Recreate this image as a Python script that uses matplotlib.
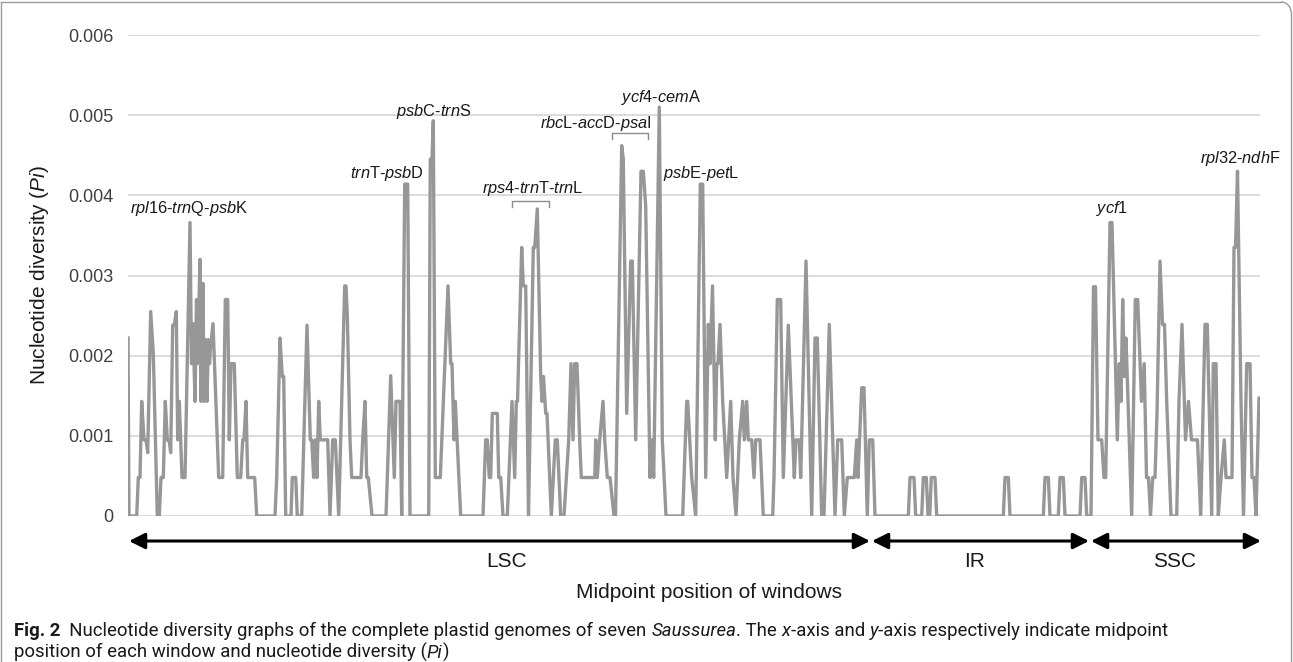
import matplotlib
matplotlib.use('Agg')
import matplotlib.pyplot as plt
from matplotlib import font_manager
from matplotlib.patches import Arc
import numpy as np

plt.rcParams['font.family'] = ['Liberation Sans', 'DejaVu Sans']
plt.rcParams['mathtext.fontset'] = 'custom'
plt.rcParams['mathtext.rm'] = 'Liberation Sans'
plt.rcParams['mathtext.it'] = 'Liberation Sans:italic'
plt.rcParams['mathtext.bf'] = 'Liberation Sans:bold'

# ---------------- data (window midpoint position, relative units; nucleotide diversity Pi) ----
lsc_pos = [0, 1, 8.7, 10.3, 12, 13.7, 16, 18, 19.7, 22.7, 25.3, 29.3, 31.3, 33, 35.3, 37.3,
           39.3, 41, 42.7, 44.7, 46.3, 48.3, 49.7, 51.3, 54, 57, 62, 63.5, 65, 67, 68.5, 69.5,
           72, 73, 75, 76, 77.5, 79, 80.3, 81.5, 82.5, 85, 90.7, 94.7, 97.3, 99.7, 101.3, 103,
           106.3, 109.3, 112.7, 114.7, 116, 118, 119.7, 126.7, 128.7, 147, 148.7, 152, 154.3,
           155.7, 157.7, 163, 164.3, 167.7, 169.3, 173.7, 179, 182.3, 183.7, 185.7, 187.3, 189,
           190.7, 192.3, 199.7, 202, 204.7, 207.3, 210.7, 216.7, 218, 219.3, 222, 223.7, 233,
           234.7, 237, 238.7, 240.3, 244, 258, 262.7, 266.3, 268, 272, 273.7, 276.7, 279.7, 282,
           300.7, 302.3, 304, 305.3, 307.3, 312.3, 320, 322.7, 324, 326, 327.3, 332.7, 355,
           357.7, 359.3, 361.3, 362.7, 364.3, 369.3, 370.7, 372.7, 375, 379.3, 384, 386.7, 388.3,
           389.5, 393.7, 395.3, 397.7, 400.5, 405.3, 406.7, 409.3, 412.7, 414, 415.5, 417.7, 419,
           423.3, 427.3, 429.3, 432.7, 436, 440.7, 443, 445, 446.7, 449, 451.7, 453.3, 466.7,
           467.7, 469.3, 471.7, 475, 476.7, 479.3, 482, 486, 487.5, 493.7, 495.3, 498.7, 502.7,
           504.3, 507.7, 513, 515.3, 517.7, 522, 523.7, 525.7, 531.3, 534.3, 538, 554.7, 558.7,
           559.7, 563.7, 567.7, 572.3, 574.7, 577.7, 580.3, 582, 584.5, 587.3, 588.7, 590, 592,
           594.7, 598.7, 602.7, 605, 608, 611.3, 614.7, 616.3, 618.7, 620.3, 623.7, 626, 627.7,
           632, 635.3, 644.7, 646, 649.3, 652.7, 655.3, 660.3, 666.3, 668, 671.3, 672.7, 678,
           683.7, 687, 689.3, 693.7, 696, 701.3, 707, 709.7, 713.7, 716.3, 719.3, 726.3, 728.7,
           730, 733.7, 736, 739.3, 741.3, 744.7, 747]
lsc_pi = [0.00222, 0, 0, 0.00048, 0.00048, 0.00143, 0.00095, 0.00095, 0.00079, 0.00255, 0.00203,
          0, 0, 0.00048, 0.00048, 0.00143, 0.00095, 0.00095, 0.00079, 0.00238, 0.00238, 0.00255,
          0.00095, 0.00143, 0.00048, 0.00048, 0.00366, 0.0019, 0.0024, 0.00143, 0.0027, 0.0019,
          0.0032, 0.00143, 0.0029, 0.00143, 0.0022, 0.00143, 0.0022, 0.0019, 0.0021, 0.0024,
          0.00048, 0.00048, 0.0027, 0.0027, 0.00095, 0.0019, 0.0019, 0.00048, 0.00048, 0.00095,
          0.00095, 0.00143, 0.00048, 0.00048, 0, 0, 0.00048, 0.00222, 0.00174, 0.00174, 0, 0,
          0.00048, 0.00048, 0, 0, 0.00238, 0.00095, 0.00095, 0.00048, 0.00095, 0.00048, 0.00143,
          0.00095, 0.00095, 0, 0.00095, 0.00095, 0, 0.00287, 0.00287, 0.0025, 0.00095, 0.00048,
          0.00048, 0.00095, 0.00143, 0.00048, 0.00048, 0, 0, 0.00175, 0.00048, 0.00143, 0.00143,
          0, 0.00414, 0.00414, 0, 0, 0.00445, 0.00445, 0.00493, 0.00048, 0.00048, 0.00287,
          0.0019, 0.0019, 0.00095, 0.00143, 0, 0, 0.00095, 0.00095, 0.00048, 0.00048, 0.00128,
          0.00128, 0.00048, 0.00048, 0, 0, 0.00143, 0.00048, 0.00143, 0.00143, 0.00335, 0.00287,
          0.00287, 0, 0.00335, 0.00335, 0.00383, 0.00174, 0.00143, 0.00174, 0.00128, 0.00128, 0,
          0.00095, 0.00095, 0, 0, 0.00095, 0.0019, 0.00095, 0.0019, 0.0019, 0.00095, 0.00048,
          0.00048, 0.00095, 0.00048, 0.00095, 0.00143, 0.00095, 0.00048, 0.00048, 0, 0, 0.00462,
          0.00445, 0.00128, 0.00318, 0.00318, 0.00095, 0.0043, 0.0043, 0.00387, 0.00048, 0.00095,
          0.00048, 0.0051, 0.00095, 0, 0, 0.00143, 0.00143, 0.00048, 0, 0.00414, 0.00414,
          0.00048, 0.00239, 0.0019, 0.00287, 0.00095, 0.0019, 0.0019, 0.00239, 0.00143, 0.00048,
          0.00143, 0.00048, 0, 0.00095, 0.00143, 0.00095, 0.00143, 0.00095, 0.00095, 0.00048,
          0.00095, 0.00095, 0, 0, 0.00048, 0.0027, 0.0027, 0.00048, 0.00238, 0.00048, 0.00095,
          0.00095, 0.00048, 0.00318, 0, 0.00222, 0.00222, 0, 0, 0.00239, 0, 0.00095, 0.00095, 0,
          0.00048, 0.00048, 0.00095, 0.00048, 0.0016, 0.0016, 0, 0.00095, 0.00095, 0]

ir_pos = [780.3, 782, 786, 787.7, 793.7, 795.3, 798.3, 800, 801.7, 803.3, 807, 808.7, 875.3, 877,
          880.3, 882, 915.3, 917, 920.3, 922, 930.3, 932, 935.3, 937, 952, 953.7, 957, 958.7, 963]
ir_pi = [0, 0.00048, 0.00048, 0, 0, 0.00048, 0.00048, 0, 0, 0.00048, 0.00048, 0, 0, 0.00048,
         0.00048, 0, 0, 0.00048, 0.00048, 0, 0, 0.00048, 0.00048, 0, 0, 0.00048, 0.00048, 0, 0]

ssc_pos = [965.5, 967.5, 970, 973.7, 976, 977.7, 982, 984, 989.3, 991.3, 993, 994.7, 996.3, 998,
           1003.7, 1007.3, 1009.7, 1013.5, 1016.2, 1018.5, 1020.5, 1022.5, 1024.7, 1027, 1029,
           1032, 1034.5, 1036.5, 1038.7, 1043, 1048.7, 1051, 1054, 1057.5, 1060.5, 1063.5,
           1069.5, 1072.7, 1077, 1079.3, 1083.7, 1085.3, 1088, 1090.3, 1093, 1096.3, 1098, 1104,
           1106, 1107.5, 1109.5, 1113, 1115.5, 1118.7, 1122, 1124, 1126, 1128, 1131]
ssc_pi = [0.00286, 0.00286, 0.00095, 0.00095, 0.00048, 0.00048, 0.00366, 0.00366, 0.00095,
          0.0019, 0.00143, 0.0027, 0.00174, 0.00222, 0, 0.0027, 0.0027, 0.00143, 0.0019, 0.00048,
          0.00048, 0, 0.00048, 0.00048, 0.00128, 0.00318, 0.00239, 0.00239, 0.00143, 0, 0,
          0.00143, 0.00239, 0.00095, 0.00143, 0.00095, 0.00095, 0, 0.00239, 0.00239, 0, 0.0019,
          0.0019, 0, 0.00048, 0.00095, 0.00048, 0.00048, 0.00335, 0.00335, 0.0043, 0.00143, 0,
          0.0019, 0.0019, 0.00048, 0.00048, 0, 0.00147]

regions = ['LSC', 'IR', 'SSC']
region_start = [1, 744, 963]
region_end = [742, 961, 1133]
region_label_x = [379, 847, 1047]

y_ticks = [0, 0.001, 0.002, 0.003, 0.004, 0.005, 0.006]
y_tick_labels = ['0', '0.001', '0.002', '0.003', '0.004', '0.005', '0.006']

ann_labels = [r'$\mathit{rpl}$16-$\mathit{trn}$Q-$\mathit{psb}$K',
              r'$\mathit{trn}$T-$\mathit{psb}$D',
              r'$\mathit{psb}$C-$\mathit{trn}$S',
              r'$\mathit{rps}$4-$\mathit{trn}$T-$\mathit{trn}$L',
              r'$\mathit{rbc}$L-$\mathit{acc}$D-$\mathit{psa}$I',
              r'$\mathit{ycf}$4-$\mathit{cem}$A',
              r'$\mathit{psb}$E-$\mathit{pet}$L',
              r'$\mathit{ycf}$1',
              r'$\mathit{rpl}$32-$\mathit{ndh}$F']
ann_x = [1.5, 259, 305.8, 405, 467.3, 532.7, 573, 984.5, 1112]
ann_y = [0.003775, 0.00422, 0.00499, 0.004025, 0.00484, 0.00517, 0.00421, 0.003775, 0.0044]
ann_ha = ['left', 'center', 'center', 'center', 'center', 'center', 'center', 'center', 'center']

bracket_x = [(383.7, 421.3), (483.7, 520.3)]
bracket_top = [0.00393, 0.00478]
bracket_bottom = [0.00385, 0.0047]

# ---------------- figure ----------------
W, H = 1293, 662
fig = plt.figure(figsize=(W / 100, H / 100), dpi=100)
ax = fig.add_axes([128 / W, 146 / H, 1132 / W, 481 / H])

pos = lsc_pos + ir_pos + ssc_pos
pi = lsc_pi + ir_pi + ssc_pi
assert len(pos) == len(pi)
ax.plot(pos, pi, color='#979797', lw=2.4, solid_joinstyle='round', zorder=3)

ax.set_xlim(0, 1132)
ax.set_ylim(0, 0.006)
ax.set_xticks([])
ax.set_yticks(y_ticks)
ax.set_yticklabels(y_tick_labels)
for s in ax.spines.values():
    s.set_visible(False)
ax.grid(axis='y', color='#d9d9d9', lw=1.3)
ax.set_axisbelow(True)
ax.tick_params(axis='y', length=0, pad=10.5, labelsize=13, labelcolor='#404040')

for lab, x, y, ha in zip(ann_labels, ann_x, ann_y, ann_ha):
    ax.text(x, y, lab, fontsize=11.8, ha=ha, va='baseline', color='#1a1a1a', zorder=4)

for (x0, x1), yt, yb in zip(bracket_x, bracket_top, bracket_bottom):
    ax.plot([x0, x0, x1, x1], [yb, yt, yt, yb], color='#8c8c8c', lw=1.0, zorder=4)

trans = ax.get_xaxis_transform()
for name, s, e, lx in zip(regions, region_start, region_end, region_label_x):
    ax.annotate('', xy=(e, -0.052), xytext=(s, -0.052), xycoords=trans, textcoords=trans,
                arrowprops=dict(arrowstyle='<|-|>,head_length=0.8,head_width=0.4',
                                mutation_scale=12, lw=2.2, color='black',
                                shrinkA=0, shrinkB=0),
                annotation_clip=False)
    ax.text(lx, -0.1054, name, transform=trans, ha='center', va='baseline', fontsize=15,
            color='#1a1a1a')

ax.text(581, -0.171, 'Midpoint position of windows', transform=trans, ha='center',
        va='baseline', fontsize=15, color='#1a1a1a')

fig.text(40 / W, 1 - 275 / H, r'Nucleotide diversity ($\mathit{Pi}$)', rotation=90,
         ha='center', va='center', fontsize=15, color='#1a1a1a')

# ---------------- caption ----------------
installed = {f.name for f in font_manager.fontManager.ttflist}
cap_family = [f for f in ['Roboto', 'Lato', 'Liberation Sans'] if f in installed][:1] + ['DejaVu Sans']
cap_line1 = [('Fig. 2', 'bold', 'normal'),
             ('  Nucleotide diversity graphs of the complete plastid genomes of seven ', 'normal', 'normal'),
             ('Saussurea', 'normal', 'italic'),
             ('. The ', 'normal', 'normal'),
             ('x', 'normal', 'italic'),
             ('-axis and ', 'normal', 'normal'),
             ('y', 'normal', 'italic'),
             ('-axis respectively indicate midpoint', 'normal', 'normal')]
cap_line2 = [('position of each window and nucleotide diversity (', 'normal', 'normal'),
             ('Pi', 'normal', 'italic'),
             (')', 'normal', 'normal')]

renderer = fig.canvas.get_renderer()


def piece_width(txt, size, weight, style):
    p = fig.text(0, 0, txt + '|', fontsize=size, family=cap_family, weight=weight, style=style)
    w1 = p.get_window_extent(renderer).width
    p.set_text('|')
    w2 = p.get_window_extent(renderer).width
    p.remove()
    return w1 - w2


def line_width(parts, size):
    return sum(piece_width(t, size, w, s) for t, w, s in parts)


def draw_line(parts, x_px, y_px, size):
    x = x_px
    for t, w, s in parts:
        fig.text(x / W, 1 - y_px / H, t, fontsize=size, family=cap_family, weight=w, style=s,
                 ha='left', va='baseline', color='#1a1a1a')
        x += piece_width(t, size, w, s)


base = 11.0
cap_size = min(base * 1184 / line_width(cap_line1, base), 13.4)
draw_line(cap_line1, 14, 636, cap_size)
draw_line(cap_line2, 14, 658, cap_size)

# frame with rounded top-right corner
fc = '#9a9a9a'
r = 10
fig.add_artist(plt.Line2D([1 / W, 1 / W], [0, 1 - 2 / H], transform=fig.transFigure, color=fc, lw=1.0))
fig.add_artist(plt.Line2D([1 / W, (W - 2 - r) / W], [1 - 2 / H, 1 - 2 / H],
                          transform=fig.transFigure, color=fc, lw=1.0))
fig.add_artist(plt.Line2D([(W - 2) / W, (W - 2) / W], [0, 1 - (2 + r) / H],
                          transform=fig.transFigure, color=fc, lw=1.0))
fig.add_artist(Arc(((W - 2 - r) / W, 1 - (2 + r) / H), 2 * r / W, 2 * r / H, theta1=0, theta2=90,
                   transform=fig.transFigure, color=fc, lw=1.0))

fig.savefig('out.png', dpi=100)
